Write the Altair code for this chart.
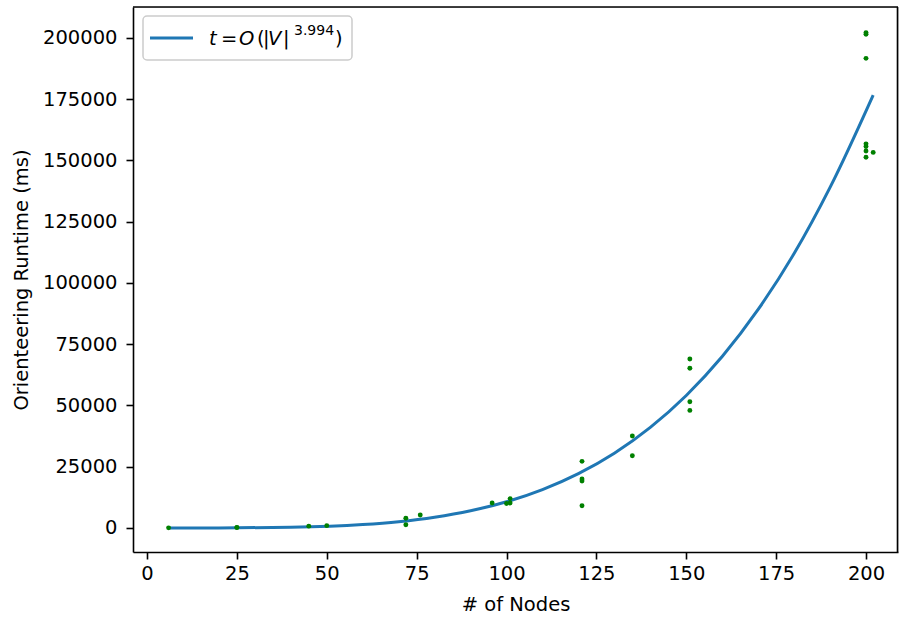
import altair as alt
import pandas as pd

# Observed runtimes (ms) per number of nodes
nodes = [6, 25, 25, 45, 50, 72, 72, 76, 96, 100, 101, 101,
         121, 121, 121, 121, 135, 135, 151, 151, 151, 151,
         200, 200, 200, 200, 200, 200, 200, 202]
runtime = [50, 150, 250, 750, 950, 3950, 1350, 5300, 10200, 10000, 12000, 10200,
           27200, 20000, 19200, 9100, 37550, 29500, 69000, 65200, 51550, 48000,
           202200, 201500, 191700, 156800, 155700, 153900, 151300, 153300]

# Fitted curve
curve_x = [6, 20, 40, 60, 70, 80, 90, 100, 110, 120, 130, 140, 150, 160, 170, 180, 190, 202]
curve_y = [0, 17, 275, 1390, 2575, 4390, 7030, 10700, 15680, 22200, 30550, 41080, 54100,
           70000, 89200, 112000, 139000, 176700]

FONT = "DejaVu Sans"
FS = 19.5

pts = pd.DataFrame({"nodes": nodes, "runtime": runtime})
cur = pd.DataFrame({"nodes": curve_x, "runtime": curve_y})
one = pd.DataFrame({"k": [0]})

xscale = alt.Scale(domain=[-3.9, 208.9], nice=False, zero=False)
yscale = alt.Scale(domain=[-9800, 212650], nice=False, zero=False)

xaxis = alt.Axis(values=[0, 25, 50, 75, 100, 125, 150, 175, 200], format="d", grid=False,
                 title="# of Nodes", tickSize=7, tickWidth=1.6, tickColor="black",
                 domainColor="black", domainWidth=1.6, labelFont=FONT, labelFontSize=FS,
                 labelColor="black", titleFont=FONT, titleFontSize=FS, titleFontWeight="normal",
                 titleColor="black", labelPadding=5, titlePadding=13)
yaxis = alt.Axis(values=list(range(0, 200001, 25000)), format="d", grid=False,
                 title="Orienteering Runtime (ms)", tickSize=7, tickWidth=1.6, tickColor="black",
                 domainColor="black", domainWidth=1.6, labelFont=FONT, labelFontSize=FS,
                 labelColor="black", titleFont=FONT, titleFontSize=FS, titleFontWeight="normal",
                 titleColor="black", labelPadding=9, titlePadding=11)

line = alt.Chart(cur).mark_line(color="#1f77b4", strokeWidth=3, interpolate="monotone").encode(
    x=alt.X("nodes:Q", scale=xscale, axis=xaxis),
    y=alt.Y("runtime:Q", scale=yscale, axis=yaxis),
)
dots = alt.Chart(pts).mark_circle(color="green", size=24, opacity=1).encode(
    x=alt.X("nodes:Q", scale=xscale),
    y=alt.Y("runtime:Q", scale=yscale),
)

# Right and top spines (explicit)
right_spine = alt.Chart(one).mark_rule(color="black", strokeWidth=1.6).encode(
    x=alt.value(764.5), y=alt.value(0), y2=alt.value(545))
top_spine = alt.Chart(one).mark_rule(color="black", strokeWidth=1.6).encode(
    x=alt.value(0), x2=alt.value(765), y=alt.value(0))

# Legend (drawn manually to allow the superscript)
box = alt.Chart(one).mark_rect(fill="white", fillOpacity=0.8, stroke="#cccccc", strokeWidth=1.5,
                               cornerRadius=4).encode(
    x=alt.value(10), x2=alt.value(219), y=alt.value(9), y2=alt.value(53))
sample = alt.Chart(one).mark_rule(color="#1f77b4", strokeWidth=3).encode(
    x=alt.value(17), x2=alt.value(60), y=alt.value(31))

pieces = [
    ("t", 76, 38, FS, "italic"),
    ("=", 88, 38, FS, "normal"),
    ("O", 106, 38, FS, "italic"),
    ("(", 124, 38, FS, "normal"),
    ("|", 130, 38, FS, "normal"),
    ("V", 135, 38, FS, "italic"),
    ("|", 150, 38, FS, "normal"),
    ("3.994", 161, 28, 14, "normal"),
    (")", 202, 38, FS, "normal"),
]
texts = []
for t, px, py, fs, style in pieces:
    texts.append(alt.Chart(one).mark_text(text=t, font=FONT, fontSize=fs, fontStyle=style,
                                          align="left", baseline="alphabetic", color="black").encode(
        x=alt.value(px), y=alt.value(py)))

chart = alt.layer(line, dots, box, sample, right_spine, top_spine, *texts).properties(
    width=765, height=545,
    autosize=alt.AutoSizeParams(type="none"),
    padding={"left": 133, "top": 7, "right": 2, "bottom": 66},
).configure_view(stroke="black", strokeWidth=1.6).configure(background="white")

chart.save("out.html", embed_options={"renderer": "svg", "actions": False})
